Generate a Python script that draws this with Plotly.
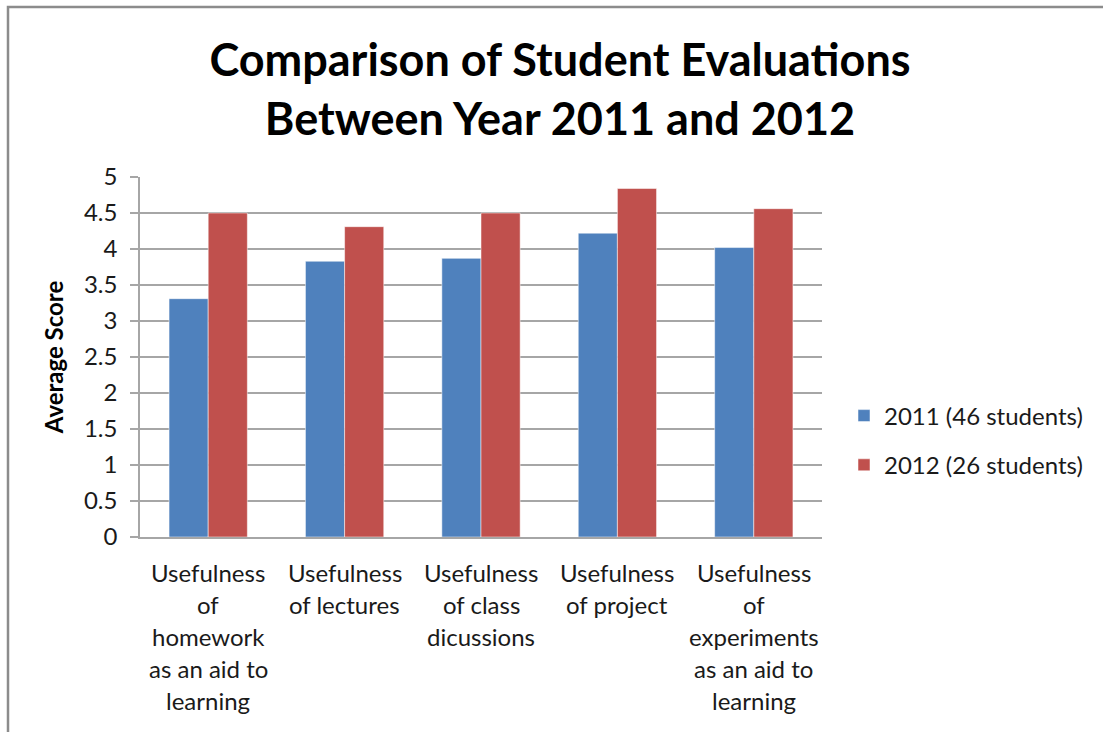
import plotly.graph_objects as go

categories = [
    "Usefulness<br>of<br>homework<br>as an aid to<br>learning",
    "Usefulness<br>of lectures",
    "Usefulness<br>of class<br>dicussions",
    "Usefulness<br>of project",
    "Usefulness<br>of<br>experiments<br>as an aid to<br>learning",
]
series_2011_name = "2011 (46 students)"
series_2012_name = "2012 (26 students)"
values_2011 = [3.31, 3.83, 3.87, 4.22, 4.02]
values_2012 = [4.50, 4.31, 4.50, 4.84, 4.56]
y_ticks = [0, 0.5, 1, 1.5, 2, 2.5, 3, 3.5, 4, 4.5, 5]
title_text = "Comparison of Student Evaluations<br>Between Year 2011 and 2012"
y_title = "Average Score"

FONT = "Lato"
FS = 24
W, H = 1103, 732
L, R, T, B = 140, 281, 177, 195
PW, PH = W - L - R, H - T - B

x_idx = list(range(len(categories)))

fig = go.Figure()
fig.add_trace(go.Bar(
    x=x_idx, y=values_2011, name=series_2011_name,
    marker=dict(color="#4F81BD", line=dict(color="rgba(255,255,255,0.5)", width=1)),
    legendgroup="a",
))
fig.add_trace(go.Bar(
    x=x_idx, y=values_2012, name=series_2012_name,
    marker=dict(color="#C0504D", line=dict(color="rgba(255,255,255,0.5)", width=1)),
    legendgroup="b",
))

# category labels as multi-line annotations placed on the x axis
line_h = 32
for i, lab in enumerate(categories):
    for j, line in enumerate(lab.split("<br>")):
        fig.add_annotation(
            x=i, xref="x", y=-(35 + j * line_h) / PH, yref="paper",
            text=line, showarrow=False, xanchor="center", yanchor="middle",
            font=dict(family=FONT, size=FS, color="#1a1a1a"),
        )

# chart frame (left and top edges visible)
fig.add_shape(type="rect", xref="paper", yref="paper",
              x0=(8 - L) / PW, x1=(1110 - L) / PW,
              y0=-(B + 20) / PH, y1=(PH + T - 7) / PH,
              line=dict(color="#8c8c8c", width=2.5), layer="below")

fig.update_layout(
    width=W, height=H,
    margin=dict(l=L, r=R, t=T, b=B, autoexpand=False),
    paper_bgcolor="white", plot_bgcolor="white",
    barmode="group", bargap=0.426, bargroupgap=0.0,
    title=dict(text=title_text, x=560 / W, xanchor="center",
               y=1 - 76 / H, yanchor="middle",
               font=dict(family=FONT, size=45, color="black", weight="bold")),
    font=dict(family=FONT, size=FS, color="#1a1a1a"),
    legend=dict(x=(844 - L) / PW, xanchor="left", y=0.268, yanchor="middle",
                font=dict(family=FONT, size=FS, color="#1a1a1a"),
                tracegroupgap=15, itemwidth=30, bgcolor="rgba(0,0,0,0)"),
    xaxis=dict(range=[-0.5, 4.5], tickvals=x_idx, showticklabels=False,
               showgrid=False, zeroline=False, showline=True,
               linecolor="#a6a6a6", linewidth=1.5, ticks=""),
    yaxis=dict(range=[0, 5], tickvals=y_ticks, ticktext=[f"{v:g}" for v in y_ticks],
               showgrid=True, gridcolor="#a6a6a6", gridwidth=1.5,
               zeroline=False, showline=True, linecolor="#a6a6a6", linewidth=1.5,
               ticks="outside", ticklen=8, tickcolor="#a6a6a6", tickwidth=1.5,
               ticklabelstandoff=8,
               tickfont=dict(family=FONT, size=FS, color="#1a1a1a"),
               title=dict(text=y_title, standoff=14,
                          font=dict(family=FONT, size=24, color="black", weight="bold"))),
)

fig.write_html("out.html", config={"displayModeBar": False},
               post_script="document.body.style.margin='0';")
